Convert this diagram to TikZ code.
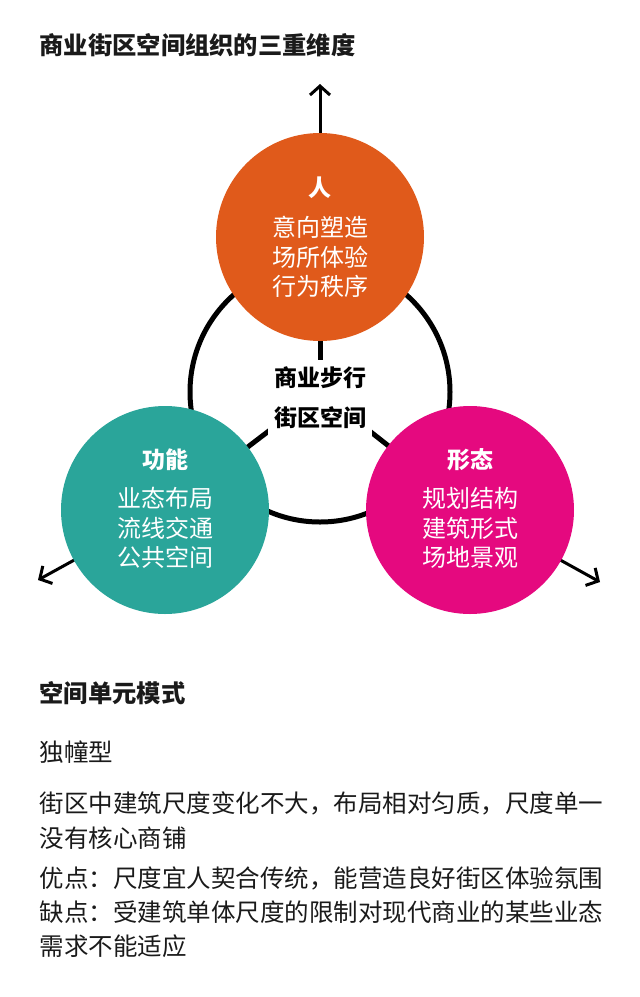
\documentclass[tikz,border=0pt]{standalone}
\usepackage{fontspec}
\setmainfont{Noto Sans CJK SC}
\usetikzlibrary{arrows.meta}
\definecolor{corange}{HTML}{E05A1B}
\definecolor{cteal}{HTML}{2AA59A}
\definecolor{cmag}{HTML}{E5097F}
\definecolor{ctext}{HTML}{1A1A1A}
\tikzset{
 ring/.style={line width=5pt,draw=black},
 dim/.style={circle,minimum size=208pt,inner sep=0pt},
 ctxt/.style={text=white,align=center,font=\fontsize{24}{29.5}\selectfont},
 ctitle/.style={text=white,font=\fontsize{23}{24}\selectfont\bfseries},
 arr/.style={line width=3pt,-{Straight Barb[length=9pt,width=20pt,line width=3pt]}},
 body/.style={anchor=west,text=ctext,font=\fontsize{24.5}{26}\selectfont},
 head/.style={anchor=west,text=ctext,font=\fontsize{24.3}{26}\selectfont\bfseries}
}
\begin{document}
\begin{tikzpicture}[x=1pt,y=-1pt]
\useasboundingbox (0,0) rectangle (640,997);
\node[head] (title) at (36,45) {商业街区空间组织的三重维度};
\coordinate (cen) at (320,392);
\coordinate (ctop) at (320,237);
\coordinate (cleft) at (165,510);
\coordinate (cright) at (470,510);
\coordinate (atop) at (320,84);
\coordinate (aleft) at (38,580);
\coordinate (aright) at (600,582);
\draw[ring] (cen) circle (130);
\draw[ring] (cen) -- (ctop);
\draw[ring] (cen) -- (cleft);
\draw[ring] (cen) -- (cright);
\draw[arr] (ctop) -- (atop);
\draw[arr] (cleft) -- (aleft);
\draw[arr] (cright) -- (aright);
\node[fill=white,inner sep=1pt,minimum width=104pt,minimum height=76pt,font=\fontsize{23}{40}\selectfont\bfseries,align=center] (center) at (320,398) {商业步行\\街区空间};
\node[dim,fill=corange] (top) at (ctop) {};
\node[dim,fill=cteal] (left) at (cleft) {};
\node[dim,fill=cmag] (right) at (cright) {};
\node[ctitle] (t1) at (320,188) {人};
\node[ctxt] (b1) at (320,257) {意向塑造\\场所体验\\行为秩序};
\node[ctitle] (t2) at (165,460) {功能};
\node[ctxt] (b2) at (165,528) {业态布局\\流线交通\\公共空间};
\node[ctitle] (t3) at (470,460) {形态};
\node[ctxt] (b3) at (470,528) {规划结构\\建筑形式\\场地景观};
\node[head] (h2) at (36,693) {空间单元模式};
\node[body] (l1) at (36,752) {独幢型};
\node[body] (l2) at (36,803) {街区中建筑尺度变化不大，布局相对匀质，尺度单一};
\node[body] (l3) at (36,838) {没有核心商铺};
\node[body] (l4) at (36,878) {优点：尺度宜人契合传统，能营造良好街区体验氛围};
\node[body] (l5) at (36,912) {缺点：受建筑单体尺度的限制对现代商业的某些业态};
\node[body] (l6) at (36,946) {需求不能适应};
\end{tikzpicture}
\end{document}
